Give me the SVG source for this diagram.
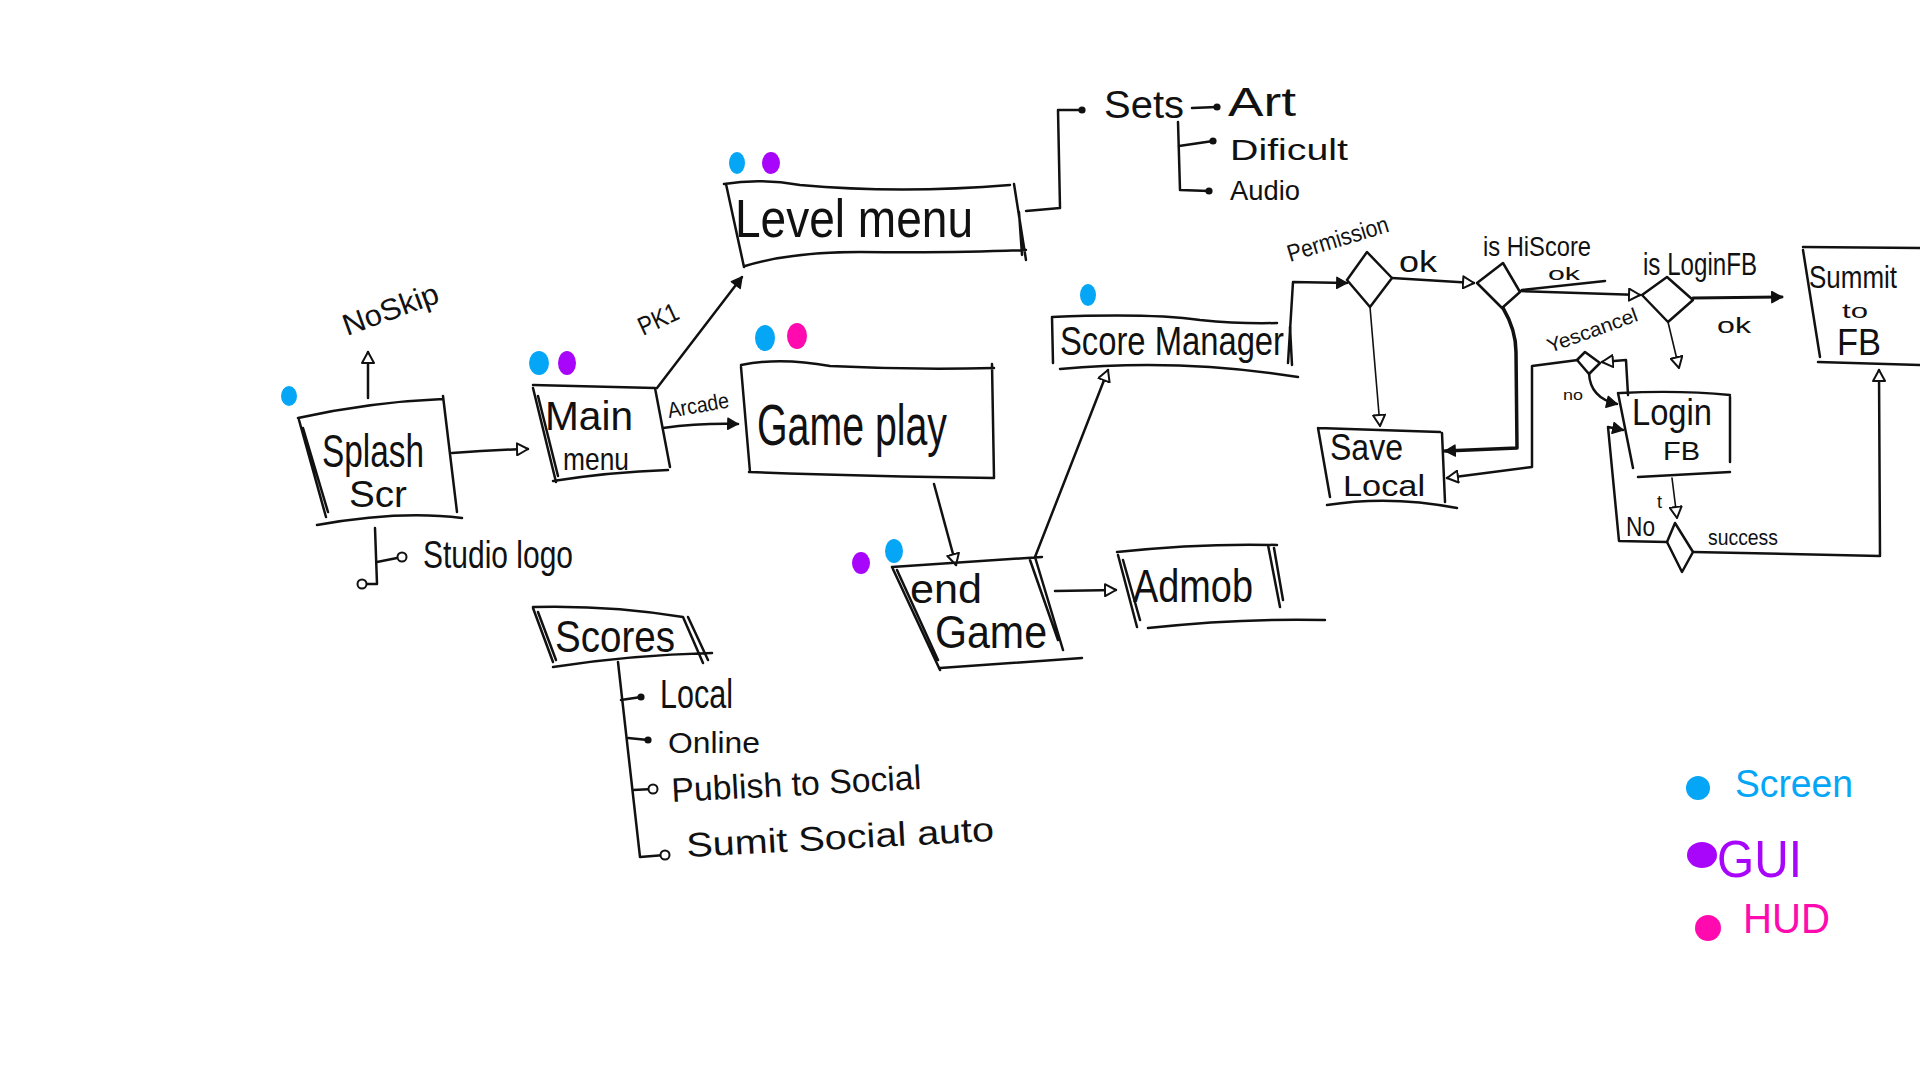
<svg xmlns="http://www.w3.org/2000/svg" width="1920" height="1080" viewBox="0 0 1920 1080">
  <style>
    .ln { fill: none; stroke: #111; stroke-width: 2.5; stroke-linecap: round; stroke-linejoin: round; }
    .thin { fill: none; stroke: #111; stroke-width: 1.6; stroke-linecap: round; }
    .t { font-family: "Liberation Sans", "DejaVu Sans", sans-serif; fill: #111; }
    .scr { fill: #06a6f6; }
    .gui { fill: #a806fb; }
    .hud { fill: #ff0aae; }
  </style>
  <defs>
    <marker id="open" viewBox="0 0 14 14" refX="12" refY="7" markerWidth="14" markerHeight="14" markerUnits="userSpaceOnUse" orient="auto">
      <path d="M1,1 L12,7 L1,13 Z" fill="#fff" stroke="#111" stroke-width="2" stroke-linejoin="round"/>
    </marker>
    <marker id="fill" viewBox="0 0 14 14" refX="12" refY="7" markerWidth="13" markerHeight="13" markerUnits="userSpaceOnUse" orient="auto">
      <path d="M1,1 L12,7 L1,13 Z" fill="#111" stroke="#111" stroke-width="1.5" stroke-linejoin="round"/>
    </marker>
    <marker id="dot" viewBox="0 0 10 10" refX="5" refY="5" markerWidth="9" markerHeight="9" markerUnits="userSpaceOnUse">
      <circle cx="5" cy="5" r="4" fill="#111"/>
    </marker>
    <marker id="ring" viewBox="0 0 12 12" refX="6" refY="6" markerWidth="12" markerHeight="12" markerUnits="userSpaceOnUse">
      <circle cx="6" cy="6" r="4.5" fill="#fff" stroke="#111" stroke-width="2"/>
    </marker>
  </defs>

  <rect width="1920" height="1080" fill="#fff"/>

  <!-- connectors -->
  <g id="connectors" class="ln">
    <path d="M452,453 Q490,450 528,449" marker-end="url(#open)"/>
    <path d="M368,398 L368,352" marker-end="url(#open)"/>
    <path d="M375,528 L377,584 L362,584" marker-end="url(#ring)"/>
    <path d="M377,562 L402,557" marker-end="url(#ring)"/>
    <path d="M657,388 L742,277" marker-end="url(#fill)"/>
    <path d="M663,428 Q700,423 738,424" marker-end="url(#fill)"/>
    <path d="M1026,211 L1060,208 L1058,110 L1082,110" marker-end="url(#dot)"/>
    <path d="M1192,108 L1217,107" marker-end="url(#dot)"/>
    <path d="M1178,122 L1180,190 L1209,191" marker-end="url(#dot)"/>
    <path d="M1179,146 L1213,141" marker-end="url(#dot)"/>
    <path d="M934,484 L956,565" marker-end="url(#open)"/>
    <path d="M1055,591 L1116,590" marker-end="url(#open)"/>
    <path d="M1035,557 L1108,370" marker-end="url(#open)"/>
    <path d="M1288,363 L1293,282 L1347,283" marker-end="url(#fill)"/>
    <path d="M1392,278 L1474,283" marker-end="url(#open)"/>
    <path d="M1520,291 L1640,295" marker-end="url(#open)"/>
    <path d="M1522,290 L1605,281"/>
    <path d="M1693,298 L1782,297" marker-end="url(#fill)" stroke-width="3"/>
    <path d="M1668,322 L1679,368" marker-end="url(#open)" class="thin"/>
    <path d="M1370,307 L1380,426" marker-end="url(#open)" class="thin"/>
    <path d="M1503,308 Q1516,330 1516,352 L1517,448 L1445,451" marker-end="url(#fill)" stroke-width="3.5"/>
    <path d="M1578,360 L1532,366 L1532,467 L1447,478" marker-end="url(#open)"/>
    <path d="M1628,395 L1626,360 L1602,362" marker-end="url(#open)"/>
    <path d="M1589,373 Q1590,398 1617,404" marker-end="url(#fill)"/>
    <path d="M1672,478 L1677,518" marker-end="url(#open)" class="thin"/>
    <path d="M1667,542 L1619,541 L1608,427 L1623,430" marker-end="url(#fill)"/>
    <path d="M1693,552 L1880,556 L1879,370" marker-end="url(#open)"/>
    <path d="M618,662 L640,857 L665,855" marker-end="url(#ring)"/>
    <path d="M621,700 L641,697" marker-end="url(#dot)"/>
    <path d="M628,738 L648,740" marker-end="url(#dot)"/>
    <path d="M633,790 L653,789" marker-end="url(#ring)"/>
  </g>

  <!-- Splash screen -->
  <g id="splash">
    <ellipse class="scr" cx="289" cy="396" rx="8" ry="10"/>
    <path class="ln" d="M298,418 Q370,402 443,399 M443,396 L457,512 M317,525 Q400,510 462,518 M299,420 L326,517 M303,428 L328,512"/>
    <text class="t" x="322" y="467" font-size="46" textLength="102" lengthAdjust="spacingAndGlyphs">Splash</text>
    <text class="t" x="349" y="507" font-size="36" textLength="58" lengthAdjust="spacingAndGlyphs">Scr</text>
    <text class="t" transform="translate(347,336) rotate(-20)" font-size="30" textLength="100" lengthAdjust="spacingAndGlyphs">NoSkip</text>
    <text class="t" x="423" y="568" font-size="38" textLength="150" lengthAdjust="spacingAndGlyphs">Studio logo</text>
  </g>

  <!-- Main menu -->
  <g id="main-menu">
    <ellipse class="scr" cx="539" cy="363" rx="10" ry="12"/>
    <ellipse class="gui" cx="567" cy="363" rx="9" ry="12"/>
    <path class="ln" d="M533,385 L655,388 M655,388 L670,467 M553,481 Q610,472 668,470 M533,388 L556,482 M538,396 L558,476"/>
    <text class="t" x="545" y="430" font-size="40" textLength="88" lengthAdjust="spacingAndGlyphs">Main</text>
    <text class="t" x="563" y="470" font-size="32" textLength="66" lengthAdjust="spacingAndGlyphs">menu</text>
    <text class="t" transform="translate(643,336) rotate(-25)" font-size="26" textLength="42" lengthAdjust="spacingAndGlyphs">PK1</text>
    <text class="t" transform="translate(669,418) rotate(-10)" font-size="22" textLength="62" lengthAdjust="spacingAndGlyphs">Arcade</text>
  </g>

  <!-- Level menu -->
  <g id="level-menu">
    <ellipse class="scr" cx="737" cy="163" rx="8" ry="11"/>
    <ellipse class="gui" cx="771" cy="163" rx="9" ry="11"/>
    <path class="ln" d="M724,184 Q760,178 800,185 Q900,194 1010,185 M1014,184 L1026,260 M1019,212 L1022,255 M745,266 Q790,252 860,252 Q960,253 1026,250 M726,184 L744,267"/>
    <text class="t" x="735" y="237" font-size="54" textLength="238" lengthAdjust="spacingAndGlyphs">Level menu</text>
    <text class="t" x="1104" y="118" font-size="38" textLength="80" lengthAdjust="spacingAndGlyphs">Sets</text>
    <text class="t" x="1228" y="116" font-size="40" textLength="68" lengthAdjust="spacingAndGlyphs">Art</text>
    <text class="t" x="1230" y="160" font-size="30" textLength="118" lengthAdjust="spacingAndGlyphs">Dificult</text>
    <text class="t" x="1230" y="200" font-size="28" textLength="70" lengthAdjust="spacingAndGlyphs">Audio</text>
  </g>

  <!-- Game play -->
  <g id="game-play">
    <ellipse class="scr" cx="765" cy="338" rx="10" ry="13"/>
    <ellipse class="hud" cx="797" cy="336" rx="10" ry="13"/>
    <path class="ln" d="M741,365 Q780,357 830,366 Q910,370 994,368 M992,364 L994,478 M749,472 Q860,476 994,478 M741,367 L750,472"/>
    <text class="t" x="757" y="445" font-size="58" textLength="190" lengthAdjust="spacingAndGlyphs">Game play</text>
  </g>

  <!-- End game -->
  <g id="end-game">
    <ellipse class="gui" cx="861" cy="563" rx="9" ry="11"/>
    <ellipse class="scr" cx="894" cy="551" rx="9" ry="12"/>
    <path class="ln" d="M892,567 L1042,557 M1035,557 L1063,650 M1030,560 L1058,640 M940,668 L1082,658 M892,567 L940,670 M897,570 L938,660"/>
    <text class="t" x="910" y="603" font-size="40" textLength="72" lengthAdjust="spacingAndGlyphs">end</text>
    <text class="t" x="935" y="648" font-size="46" textLength="112" lengthAdjust="spacingAndGlyphs">Game</text>
  </g>

  <!-- Admob -->
  <g id="admob">
    <path class="ln" d="M1117,552 Q1200,543 1277,545 M1118,555 L1137,627 M1123,560 L1140,620 M1268,545 L1280,607 M1274,548 L1283,600 M1148,628 Q1240,618 1325,620"/>
    <text class="t" x="1133" y="602" font-size="46" textLength="120" lengthAdjust="spacingAndGlyphs">Admob</text>
  </g>

  <!-- Score manager -->
  <g id="score-manager">
    <ellipse class="scr" cx="1088" cy="295" rx="8" ry="11"/>
    <path class="ln" d="M1052,317 Q1150,313 1200,320 Q1240,324 1277,323 M1052,317 L1053,363 M1290,327 L1292,365 M1060,369 Q1180,358 1298,377"/>
    <text class="t" x="1060" y="355" font-size="40" textLength="224" lengthAdjust="spacingAndGlyphs">Score Manager</text>
  </g>

  <!-- Permission decision -->
  <g id="permission">
    <path class="ln" d="M1367,252 L1392,278 L1370,307 L1347,280 Z"/>
    <text class="t" transform="translate(1290,262) rotate(-17)" font-size="24" textLength="105" lengthAdjust="spacingAndGlyphs">Permission</text>
    <text class="t" x="1399" y="272" font-size="30" textLength="38" lengthAdjust="spacingAndGlyphs">ok</text>
  </g>

  <!-- HiScore decision -->
  <g id="is-hiscore">
    <path class="ln" d="M1503,263 L1520,292 L1502,308 L1477,283 Z"/>
    <text class="t" x="1483" y="256" font-size="27" textLength="108" lengthAdjust="spacingAndGlyphs">is HiScore</text>
    <text class="t" x="1548" y="280" font-size="19" textLength="32" lengthAdjust="spacingAndGlyphs">ok</text>
  </g>

  <!-- Login FB decision -->
  <g id="is-login-fb">
    <path class="ln" d="M1667,277 L1693,300 L1668,322 L1642,295 Z"/>
    <text class="t" x="1643" y="275" font-size="32" textLength="114" lengthAdjust="spacingAndGlyphs">is LoginFB</text>
    <text class="t" x="1717" y="333" font-size="22" textLength="34" lengthAdjust="spacingAndGlyphs">ok</text>
  </g>

  <!-- Summit to FB -->
  <g id="summit-fb">
    <path class="ln" d="M1803,247 L1920,248 M1803,250 L1820,357 M1818,362 L1920,365"/>
    <text class="t" x="1809" y="288" font-size="32" textLength="88" lengthAdjust="spacingAndGlyphs">Summit</text>
    <text class="t" x="1842" y="318" font-size="20" textLength="26" lengthAdjust="spacingAndGlyphs">to</text>
    <text class="t" x="1837" y="355" font-size="36" textLength="44" lengthAdjust="spacingAndGlyphs">FB</text>
  </g>

  <!-- Save local -->
  <g id="save-local">
    <path class="ln" d="M1318,428 L1440,432 M1318,428 L1330,497 M1442,433 L1445,502 M1327,505 Q1390,495 1457,508"/>
    <text class="t" x="1330" y="460" font-size="36" textLength="73" lengthAdjust="spacingAndGlyphs">Save</text>
    <text class="t" x="1343" y="496" font-size="29" textLength="82" lengthAdjust="spacingAndGlyphs">Local</text>
  </g>

  <!-- Yes / cancel decision -->
  <g id="yes-cancel">
    <path class="ln" d="M1585,352 L1600,363 L1589,374 L1577,360 Z" stroke-width="2"/>
    <text class="t" transform="translate(1550,353) rotate(-20)" font-size="20" textLength="95" lengthAdjust="spacingAndGlyphs">Yescancel</text>
    <text class="t" x="1563" y="400" font-size="14" textLength="20" lengthAdjust="spacingAndGlyphs">no</text>
  </g>

  <!-- Login FB -->
  <g id="login-fb">
    <path class="ln" d="M1620,393 Q1680,390 1730,395 M1618,393 L1633,468 M1730,397 L1730,462 M1638,477 L1730,472"/>
    <text class="t" x="1632" y="425" font-size="36" textLength="80" lengthAdjust="spacingAndGlyphs">Login</text>
    <text class="t" x="1663" y="460" font-size="26" textLength="37" lengthAdjust="spacingAndGlyphs">FB</text>
  </g>

  <!-- Success decision -->
  <g id="success">
    <path class="ln" d="M1675,523 L1693,552 L1682,572 L1667,542 Z"/>
    <text class="t" x="1626" y="536" font-size="27" textLength="29" lengthAdjust="spacingAndGlyphs">No</text>
    <text class="t" x="1657" y="508" font-size="18">t</text>
    <text class="t" x="1708" y="545" font-size="22" textLength="70" lengthAdjust="spacingAndGlyphs">success</text>
  </g>

  <!-- Scores -->
  <g id="scores">
    <path class="ln" d="M533,607 Q610,605 683,617 M683,617 L703,663 M688,617 L708,660 M553,667 Q630,655 712,653 M533,608 L553,662 M538,612 L556,660"/>
    <text class="t" x="555" y="652" font-size="44" textLength="120" lengthAdjust="spacingAndGlyphs">Scores</text>
    <text class="t" x="660" y="708" font-size="40" textLength="73" lengthAdjust="spacingAndGlyphs">Local</text>
    <text class="t" x="668" y="753" font-size="30" textLength="92" lengthAdjust="spacingAndGlyphs">Online</text>
    <text class="t" transform="translate(672,802) rotate(-3)" font-size="34" textLength="250" lengthAdjust="spacingAndGlyphs">Publish to Social</text>
    <text class="t" transform="translate(687,857) rotate(-3)" font-size="34" textLength="308" lengthAdjust="spacingAndGlyphs">Sumit Social  auto</text>
  </g>

  <!-- Legend -->
  <g id="legend">
    <circle class="scr" cx="1698" cy="788" r="12"/>
    <text class="t scr" x="1735" y="797" font-size="38" textLength="118" lengthAdjust="spacingAndGlyphs">Screen</text>
    <ellipse class="gui" cx="1702" cy="855" rx="15" ry="13"/>
    <text class="t gui" x="1717" y="877" font-size="52" textLength="85" lengthAdjust="spacingAndGlyphs">GUI</text>
    <circle class="hud" cx="1708" cy="928" r="13"/>
    <text class="t hud" x="1743" y="933" font-size="42" textLength="87" lengthAdjust="spacingAndGlyphs">HUD</text>
  </g>
</svg>
